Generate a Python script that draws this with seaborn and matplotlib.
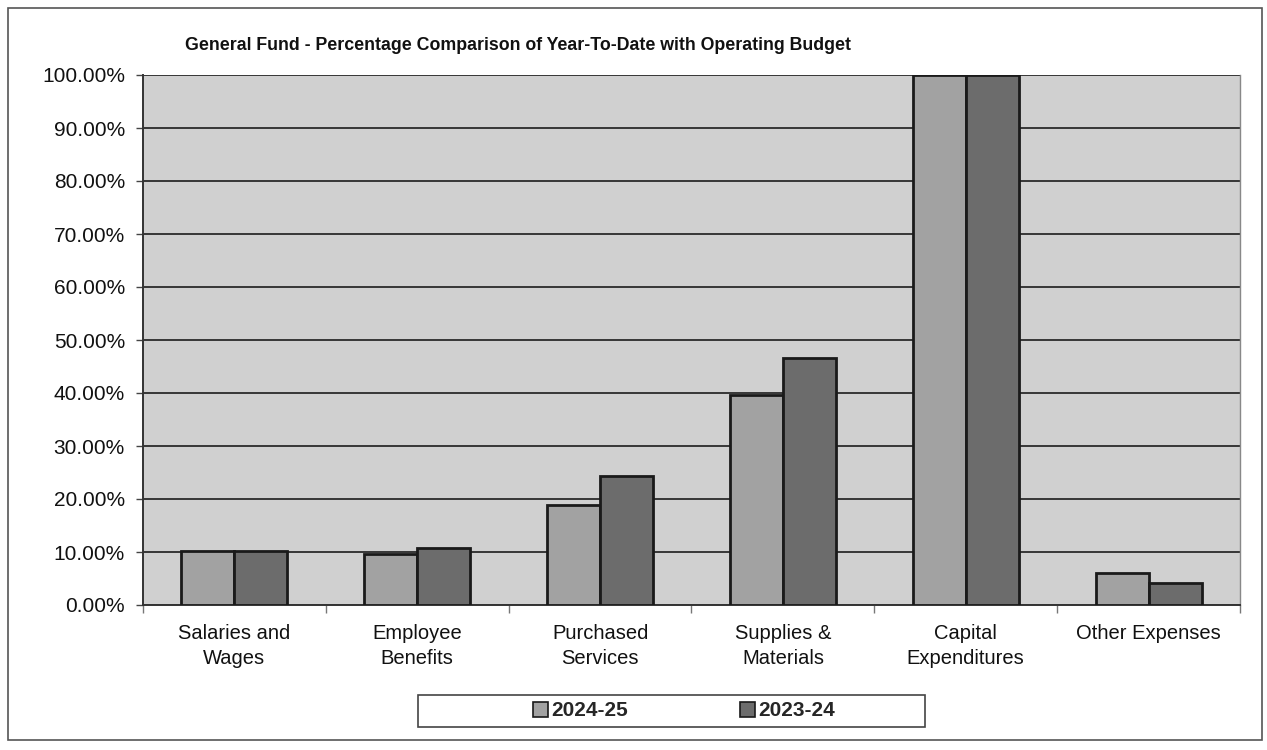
import matplotlib
matplotlib.use("Agg")
import matplotlib.pyplot as plt
import seaborn as sns
import pandas as pd
from matplotlib.patches import Rectangle
from matplotlib.ticker import FixedLocator

categories = ["Salaries and\nWages", "Employee\nBenefits", "Purchased\nServices",
              "Supplies &\nMaterials", "Capital\nExpenditures", "Other Expenses"]
series_names = ["2024-25", "2023-24"]
values_2024_25 = [10.1, 9.7, 18.8, 39.6, 100.0, 6.1]
values_2023_24 = [10.1, 10.7, 24.4, 46.6, 100.0, 4.2]
y_ticks = [0, 10, 20, 30, 40, 50, 60, 70, 80, 90, 100]
y_tick_labels = ["0.00%", "10.00%", "20.00%", "30.00%", "40.00%", "50.00%",
                 "60.00%", "70.00%", "80.00%", "90.00%", "100.00%"]
title = "General Fund - Percentage Comparison of Year-To-Date with Operating Budget"

rows = []
for c, v in zip(categories, values_2024_25):
    rows.append({"category": c, "year": series_names[0], "value": v})
for c, v in zip(categories, values_2023_24):
    rows.append({"category": c, "year": series_names[1], "value": v})
df = pd.DataFrame(rows)

sns.set_style("white")
plt.rcParams["font.family"] = ["Liberation Sans", "DejaVu Sans"]

W, H = 1267, 750
fig = plt.figure(figsize=(W / 100, H / 100), dpi=100)
fig.patch.set_facecolor("white")
ax = fig.add_axes([143 / W, 1 - 605 / H, (1240 - 143) / W, (605 - 75) / H])
ax.set_facecolor("#d0d0d0")

palette = {series_names[0]: "#a2a2a2", series_names[1]: "#6c6c6c"}
sns.barplot(data=df, x="category", y="value", hue="year", hue_order=series_names,
            order=categories, palette=palette, width=0.58, gap=0,
            edgecolor="#1a1a1a", linewidth=2.0, ax=ax, legend=False, zorder=3,
            saturation=1)

ax.set_ylim(0, 100)
ax.set_xlim(-0.5, len(categories) - 0.5)
ax.set_yticks(y_ticks)
ax.set_yticklabels(y_tick_labels, fontsize=15, color="#111111")
ax.yaxis.grid(True, color="#2a2a2a", linewidth=1.3, zorder=1)
ax.set_axisbelow(True)
ax.tick_params(axis="y", length=5, width=1, color="#444444", pad=8, left=True)
ax.tick_params(axis="x", which="major", length=0, pad=14, labelsize=14.5,
               labelcolor="#111111")
ax.xaxis.set_minor_locator(FixedLocator([i - 0.5 for i in range(len(categories) + 1)]))
ax.tick_params(axis="x", which="minor", length=6, width=1, color="#777777", bottom=True)
ax.set_xlabel("")
ax.set_ylabel("")
for lbl in ax.get_xticklabels():
    lbl.set_multialignment("center")
    lbl.set_linespacing(1.35)

for side in ["left", "bottom"]:
    ax.spines[side].set_color("#333333")
    ax.spines[side].set_linewidth(1.4)
ax.spines["right"].set_color("#888888")
ax.spines["right"].set_linewidth(1.0)
ax.spines["top"].set_visible(False)

fig.text(518 / W, 1 - 45 / H, title, ha="center", va="center",
         fontsize=12.8, fontweight="bold", color="#111111")

# outer chart border
fig.patches.append(Rectangle((8 / W, 1 - 740 / H), (1262 - 8) / W, (740 - 8) / H,
                             transform=fig.transFigure, fill=False,
                             edgecolor="#555555", linewidth=1.2))
# legend box
fig.patches.append(Rectangle((418 / W, 1 - 727 / H), (925 - 418) / W, (727 - 695) / H,
                             transform=fig.transFigure, fill=False,
                             edgecolor="#444444", linewidth=1.2))
handles = [Rectangle((0, 0), 1, 1, facecolor=palette[s], edgecolor="#1a1a1a",
                     linewidth=1.2) for s in series_names]
fig.legend(handles, series_names, loc="center", bbox_to_anchor=(684 / W, 1 - 711 / H),
           ncol=2, frameon=False, handlelength=0.7, handleheight=0.7,
           handletextpad=0.15, columnspacing=5.4,
           prop={"size": 15, "weight": "bold"})

fig.savefig("out.png", dpi=100)
